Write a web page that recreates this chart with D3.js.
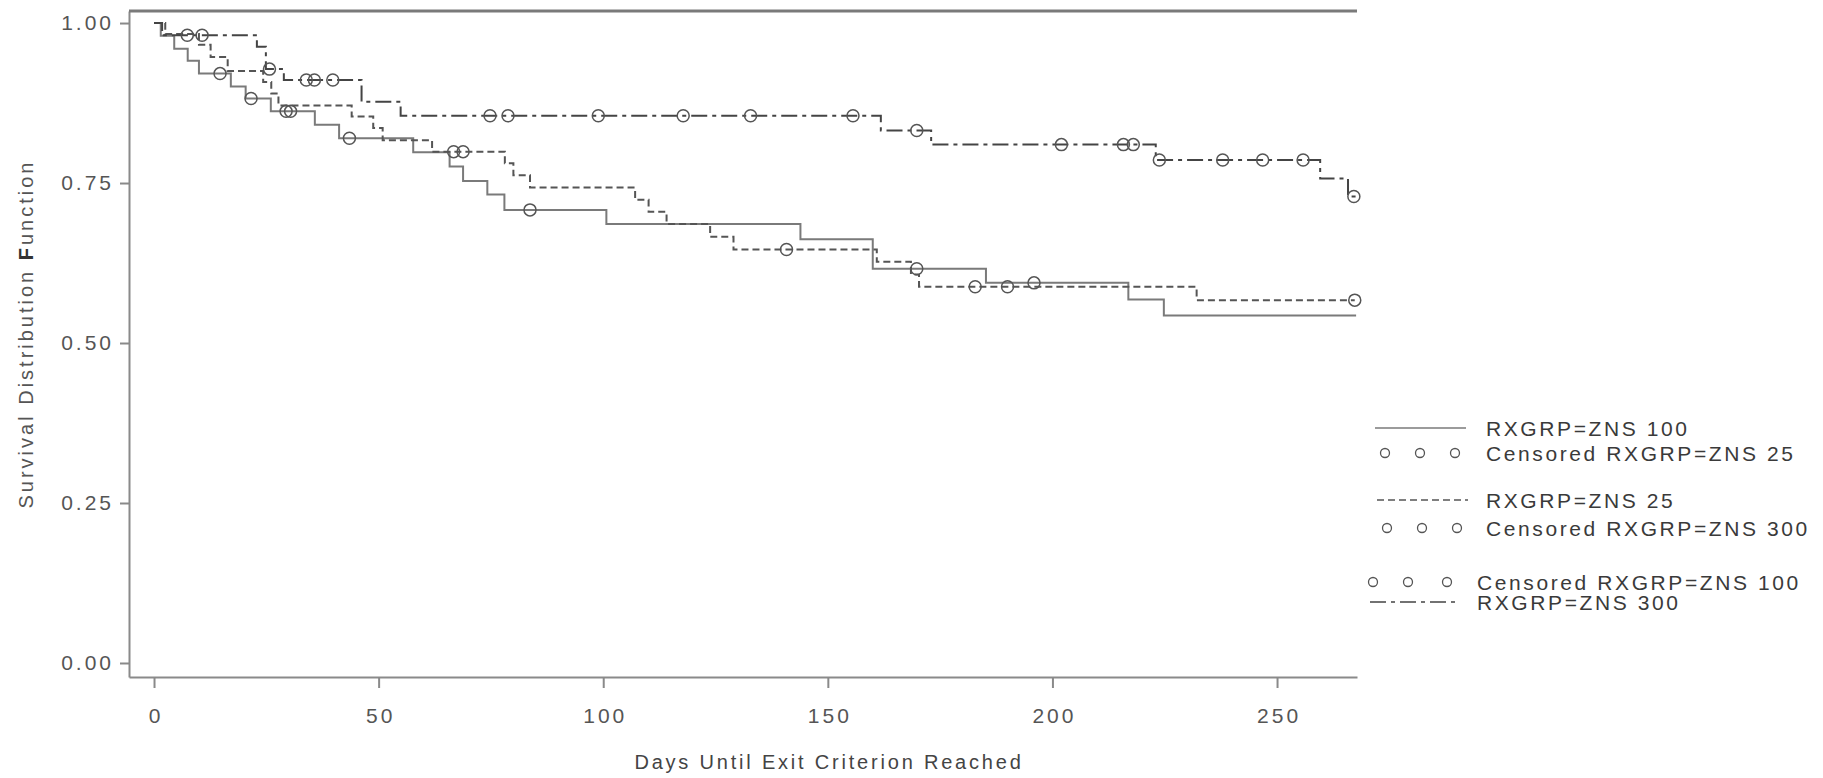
<!DOCTYPE html>
<html>
<head>
<meta charset="utf-8">
<script src="https://cdn.jsdelivr.net/npm/d3@7"></script>
<style>
  body { margin: 0; background: #fff; }
  svg { display: block; font-family: 'Liberation Sans', Arial, sans-serif; }
  .tick text { fill: #555; font-size: 21px; letter-spacing: 3px; }
  .tick line, .domain { stroke: #8a8a8a; stroke-width: 2; }
</style>
</head>
<body>
<div id="chart"></div>
<script>
// survival steps (day, survival)
const zns100Days = [0, 1.5, 4.5, 7.5, 10, 17.1, 20.4, 26, 35.8, 41.2, 57.7, 65.8, 68.8, 74.2, 78, 100.7, 143.9, 160, 185.2, 216.9, 224.8, 267.6];
const zns100Surv = [1, 0.98, 0.96, 0.941, 0.921, 0.901, 0.882, 0.862, 0.841, 0.82, 0.798, 0.776, 0.753, 0.732, 0.708, 0.686, 0.662, 0.616, 0.594, 0.568, 0.543, 0.543];
const zns100Cens = [14.7, 21.6, 29.4, 30.4, 43.5, 83.7, 169.8, 195.9];

const zns25Days = [0, 2.5, 10, 12.6, 16.4, 24.3, 26.1, 27.7, 44, 48.8, 50.9, 61.9, 78.1, 80, 83.7, 107.1, 110.1, 114.1, 123.8, 129, 160.9, 168.5, 170.3, 232.1, 267.3];
const zns25Surv = [1, 0.983, 0.966, 0.947, 0.925, 0.908, 0.89, 0.871, 0.854, 0.836, 0.817, 0.799, 0.781, 0.762, 0.743, 0.724, 0.705, 0.686, 0.666, 0.646, 0.627, 0.607, 0.588, 0.567, 0.567];
const zns25Cens = [66.7, 68.8, 140.8, 182.8, 190, 267.3];

const zns300Days = [0, 1.8, 22.9, 24.9, 28.9, 46.2, 54.9, 161.8, 173, 223, 259.6, 265.8, 267.6];
const zns300Surv = [1, 0.981, 0.963, 0.928, 0.911, 0.877, 0.855, 0.832, 0.81, 0.786, 0.757, 0.729, 0.729];
const zns300Cens = [7.4, 10.7, 25.7, 33.9, 35.7, 39.8, 74.8, 78.8, 98.9, 117.8, 132.8, 155.6, 169.8, 202, 215.8, 218, 223.8, 237.9, 246.8, 255.8, 267.1];

const xTicks = [0, 50, 100, 150, 200, 250];
const yTicks = [0, 0.25, 0.5, 0.75, 1];
const legendLabels = ['RXGRP=ZNS 100', 'Censored RXGRP=ZNS 25', 'RXGRP=ZNS 25',
  'Censored RXGRP=ZNS 300', 'Censored RXGRP=ZNS 100', 'RXGRP=ZNS 300'];

const W = 1823, H = 778;
const plot = { left: 129, right: 1357, top: 11, bottom: 677 };

const series = [
  { days: zns100Days, surv: zns100Surv, cens: zns100Cens, color: '#7a7a7a', dash: null },
  { days: zns25Days, surv: zns25Surv, cens: zns25Cens, color: '#555', dash: '7,4' },
  { days: zns300Days, surv: zns300Surv, cens: zns300Cens, color: '#444', dash: '16,5,4,5' }
];

const svg = d3.select('#chart').append('svg')
  .attr('width', W).attr('height', H);

const x = d3.scaleLinear().domain([-5.57, 267.8]).range([plot.left, plot.right]);
const y = d3.scaleLinear().domain([-0.0219, 1.0188]).range([plot.bottom, plot.top]);

// axes
svg.append('g')
  .attr('transform', `translate(${plot.left},0)`)
  .call(d3.axisLeft(y).tickValues(yTicks).tickFormat(d3.format('.2f'))
    .tickSize(9).tickSizeOuter(0).tickPadding(6));

svg.append('g')
  .attr('transform', `translate(0,${plot.bottom})`)
  .call(d3.axisBottom(x).tickValues(xTicks).tickFormat(d3.format('d'))
    .tickSize(11).tickSizeOuter(0).tickPadding(20))
  .selectAll('text').attr('dx', '1.5px');

svg.selectAll('.tick line').attr('stroke-width', 1.5);

// top frame line
svg.append('line')
  .attr('x1', plot.left).attr('x2', plot.right)
  .attr('y1', plot.top).attr('y2', plot.top)
  .attr('stroke', '#7a7a7a').attr('stroke-width', 3);

// axis titles
svg.append('text')
  .attr('transform', 'translate(33,334) rotate(-90)')
  .attr('text-anchor', 'middle')
  .attr('fill', '#555').attr('font-size', 20).attr('letter-spacing', 3)
  .html('Survival Distribution <tspan font-weight="bold" fill="#333">F</tspan>unction');

svg.append('text')
  .attr('x', 829).attr('y', 769)
  .attr('text-anchor', 'middle')
  .attr('fill', '#444').attr('font-size', 20).attr('letter-spacing', 2.8)
  .text('Days Until Exit Criterion Reached');

// curves
const line = d3.line()
  .x(d => x(d[0]))
  .y(d => y(d[1]))
  .curve(d3.curveStepAfter);

function survAt(s, day) {
  const i = d3.bisectRight(s.days, day) - 1;
  return s.surv[Math.max(0, i)];
}

series.forEach(s => {
  const pts = s.days.map((d, i) => [d, s.surv[i]]);
  svg.append('path')
    .datum(pts)
    .attr('d', line)
    .attr('fill', 'none')
    .attr('stroke', s.color)
    .attr('stroke-width', 2)
    .attr('stroke-dasharray', s.dash);

  svg.selectAll(null)
    .data(s.cens)
    .enter()
    .append('circle')
    .attr('cx', d => x(d))
    .attr('cy', d => y(survAt(s, d)))
    .attr('r', 6)
    .attr('fill', 'none')
    .attr('stroke', '#555')
    .attr('stroke-width', 1.5);
});

// legend
const legend = svg.append('g').attr('fill', '#3a3a3a').attr('font-size', 21).attr('letter-spacing', 2.6);
const rows = [
  { type: 'line', s: 0, lx: 1375, lw: 91, y: 428, tx: 1486 },
  { type: 'cens', cx: [1385, 1420, 1455], y: 453, tx: 1486 },
  { type: 'line', s: 1, lx: 1377, lw: 91, y: 500, tx: 1486 },
  { type: 'cens', cx: [1387, 1422, 1457], y: 528, tx: 1486 },
  { type: 'cens', cx: [1373, 1408, 1447], y: 582, tx: 1477 },
  { type: 'line', s: 2, lx: 1370, lw: 87, y: 602, tx: 1477 }
];

rows.forEach((r, i) => {
  if (r.type === 'line') {
    legend.append('line')
      .attr('x1', r.lx).attr('x2', r.lx + r.lw)
      .attr('y1', r.y).attr('y2', r.y)
      .attr('stroke', series[r.s].color)
      .attr('stroke-width', 1.5)
      .attr('stroke-dasharray', series[r.s].dash);
  } else {
    r.cx.forEach(cx => {
      legend.append('circle')
        .attr('cx', cx).attr('cy', r.y).attr('r', 4.5)
        .attr('fill', 'none').attr('stroke', '#555').attr('stroke-width', 1.3);
    });
  }
  legend.append('text')
    .attr('x', r.tx).attr('y', r.y + 8)
    .text(legendLabels[i]);
});
</script>
</body>
</html>
